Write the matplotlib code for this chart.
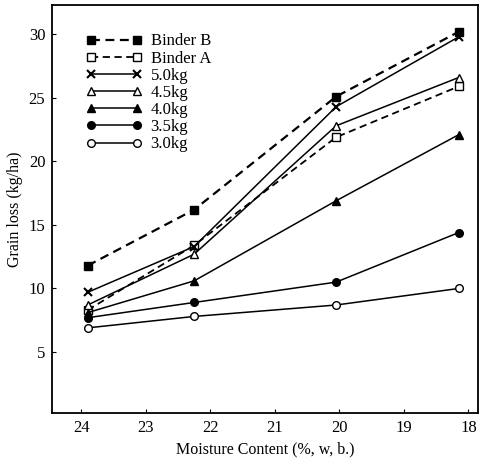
import matplotlib
matplotlib.use("Agg")
import matplotlib.pyplot as plt

plt.rcParams['font.family'] = ['Liberation Serif', 'DejaVu Serif']

# moisture content (% w.b.) at the four test points
moisture = [23.9, 22.25, 20.05, 18.15]

binder_b = [11.8, 16.2, 25.1, 30.2]
binder_a = [8.3, 13.4, 21.9, 25.9]
kg50 = [9.7, 13.3, 24.3, 29.8]
kg45 = [8.7, 12.7, 22.8, 26.6]
kg40 = [8.1, 10.6, 16.9, 22.1]
kg35 = [7.7, 8.9, 10.5, 14.4]
kg30 = [6.9, 7.8, 8.7, 10.0]

labels = ["Binder B", "Binder A", "5.0kg", "4.5kg", "4.0kg", "3.5kg", "3.0kg"]
xticks = [24, 23, 22, 21, 20, 19, 18]
yticks = [5, 10, 15, 20, 25, 30]

fig = plt.figure(figsize=(4.79, 4.62), dpi=100)
ax = fig.add_axes([0.109, 0.106, 0.889, 0.883])

ax.plot(moisture, binder_b, '--', marker='s', color='black', lw=1.6,
        ms=5.5, dashes=(4, 2.5), label=labels[0])
ax.plot(moisture, binder_a, '--', marker='s', color='black', lw=1.3,
        ms=5.5, mfc='white', dashes=(4, 2.5), label=labels[1])
ax.plot(moisture, kg50, '-', marker='x', color='black', lw=1.1,
        ms=5.5, mew=1.5, label=labels[2])
ax.plot(moisture, kg45, '-', marker='^', color='black', lw=1.1,
        ms=5.5, mfc='white', label=labels[3])
ax.plot(moisture, kg40, '-', marker='^', color='black', lw=1.1,
        ms=5.5, label=labels[4])
ax.plot(moisture, kg35, '-', marker='o', color='black', lw=1.1,
        ms=5.5, label=labels[5])
ax.plot(moisture, kg30, '-', marker='o', color='black', lw=1.1,
        ms=5.5, mfc='white', label=labels[6])

ax.set_xlim(24.45, 17.85)
ax.set_ylim(0.2, 32.3)
ax.set_xticks(xticks)
ax.set_yticks(yticks)
ax.tick_params(direction='in', length=3, labelsize=12, pad=5)
for s in ax.spines.values():
    s.set_linewidth(1.3)

ax.set_xlabel("Moisture Content (%, w, b.)", fontsize=11.5, labelpad=4)
ax.set_ylabel("Grain loss (kg/ha)", fontsize=11.5, labelpad=4)

ax.legend(loc='upper left', bbox_to_anchor=(0.055, 0.955), frameon=False,
          fontsize=12, numpoints=2, handlelength=3.4, handletextpad=0.5,
          labelspacing=0.07, borderaxespad=0.2)

fig.savefig("out.png", dpi=100)
